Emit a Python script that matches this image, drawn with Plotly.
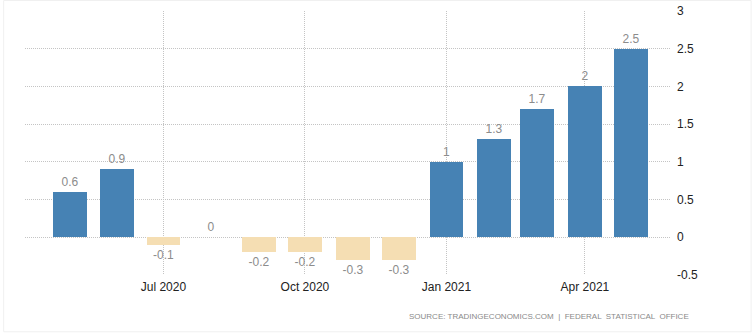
import plotly.graph_objects as go

# Monthly values, May 2020 - May 2021
months = ["2020-05-01", "2020-06-01", "2020-07-01", "2020-08-01", "2020-09-01",
          "2020-10-01", "2020-11-01", "2020-12-01", "2021-01-01", "2021-02-01",
          "2021-03-01", "2021-04-01", "2021-05-01"]
values = [0.6, 0.9, -0.1, 0, -0.2, -0.2, -0.3, -0.3, 1, 1.3, 1.7, 2, 2.5]

tick_dates = ["2020-07-01", "2020-10-01", "2021-01-01", "2021-04-01"]
tick_labels = ["Jul 2020", "Oct 2020", "Jan 2021", "Apr 2021"]
y_ticks = [-0.5, 0, 0.5, 1, 1.5, 2, 2.5, 3]

POS = "#4682B4"
NEG = "#F5DEB3"
colors = [POS if v >= 0 else NEG for v in values]

fig = go.Figure()
fig.add_trace(go.Bar(
    x=months, y=values,
    marker=dict(color=colors, line=dict(width=0)),
    width=22 * 86400000,
    text=[f"{v:g}" for v in values],
    textposition="outside",
    cliponaxis=False,
    textfont=dict(family="Liberation Sans, Arial, sans-serif", size=12, color="#8c8c8c"),
    hoverinfo="x+y",
))

GRID = dict(showgrid=True, gridcolor="#c4c4c4", griddash="1px,1px", gridwidth=1,
            zeroline=False, showline=False, ticks="", automargin=False)

fig.update_layout(
    width=754, height=334,
    margin=dict(l=25, r=83, t=11, b=59, autoexpand=False),
    paper_bgcolor="white", plot_bgcolor="white",
    showlegend=False,
    font=dict(family="Liberation Sans, Arial, sans-serif", size=12, color="#333333"),
    xaxis=dict(
        type="date",
        range=["2020-04-02", "2021-05-27"],
        tickvals=tick_dates, ticktext=tick_labels,
        ticklabelstandoff=3,
        tickfont=dict(size=12, color="#222222"),
        **GRID,
    ),
    yaxis=dict(
        side="right",
        range=[-0.5, 3],
        tickvals=y_ticks,
        ticktext=[f"{t:g}" for t in y_ticks],
        ticklabelstandoff=5,
        tickfont=dict(size=12, color="#222222"),
        **GRID,
    ),
    bargap=0,
)

fig.add_annotation(
    text="SOURCE: TRADINGECONOMICS.COM  |  FEDERAL  STATISTICAL  OFFICE",
    xref="paper", yref="paper", x=1.031, y=-0.159,
    xanchor="right", yanchor="middle", showarrow=False,
    font=dict(size=8, color="#8a8a8a"),
)

# light frame around the whole chart
fig.add_shape(type="rect", xref="paper", yref="paper",
              x0=-0.033, x1=1.124, y0=-0.215, y1=1.04,
              line=dict(color="#f0f0f0", width=1), layer="below")

fig.write_html("out.html")
